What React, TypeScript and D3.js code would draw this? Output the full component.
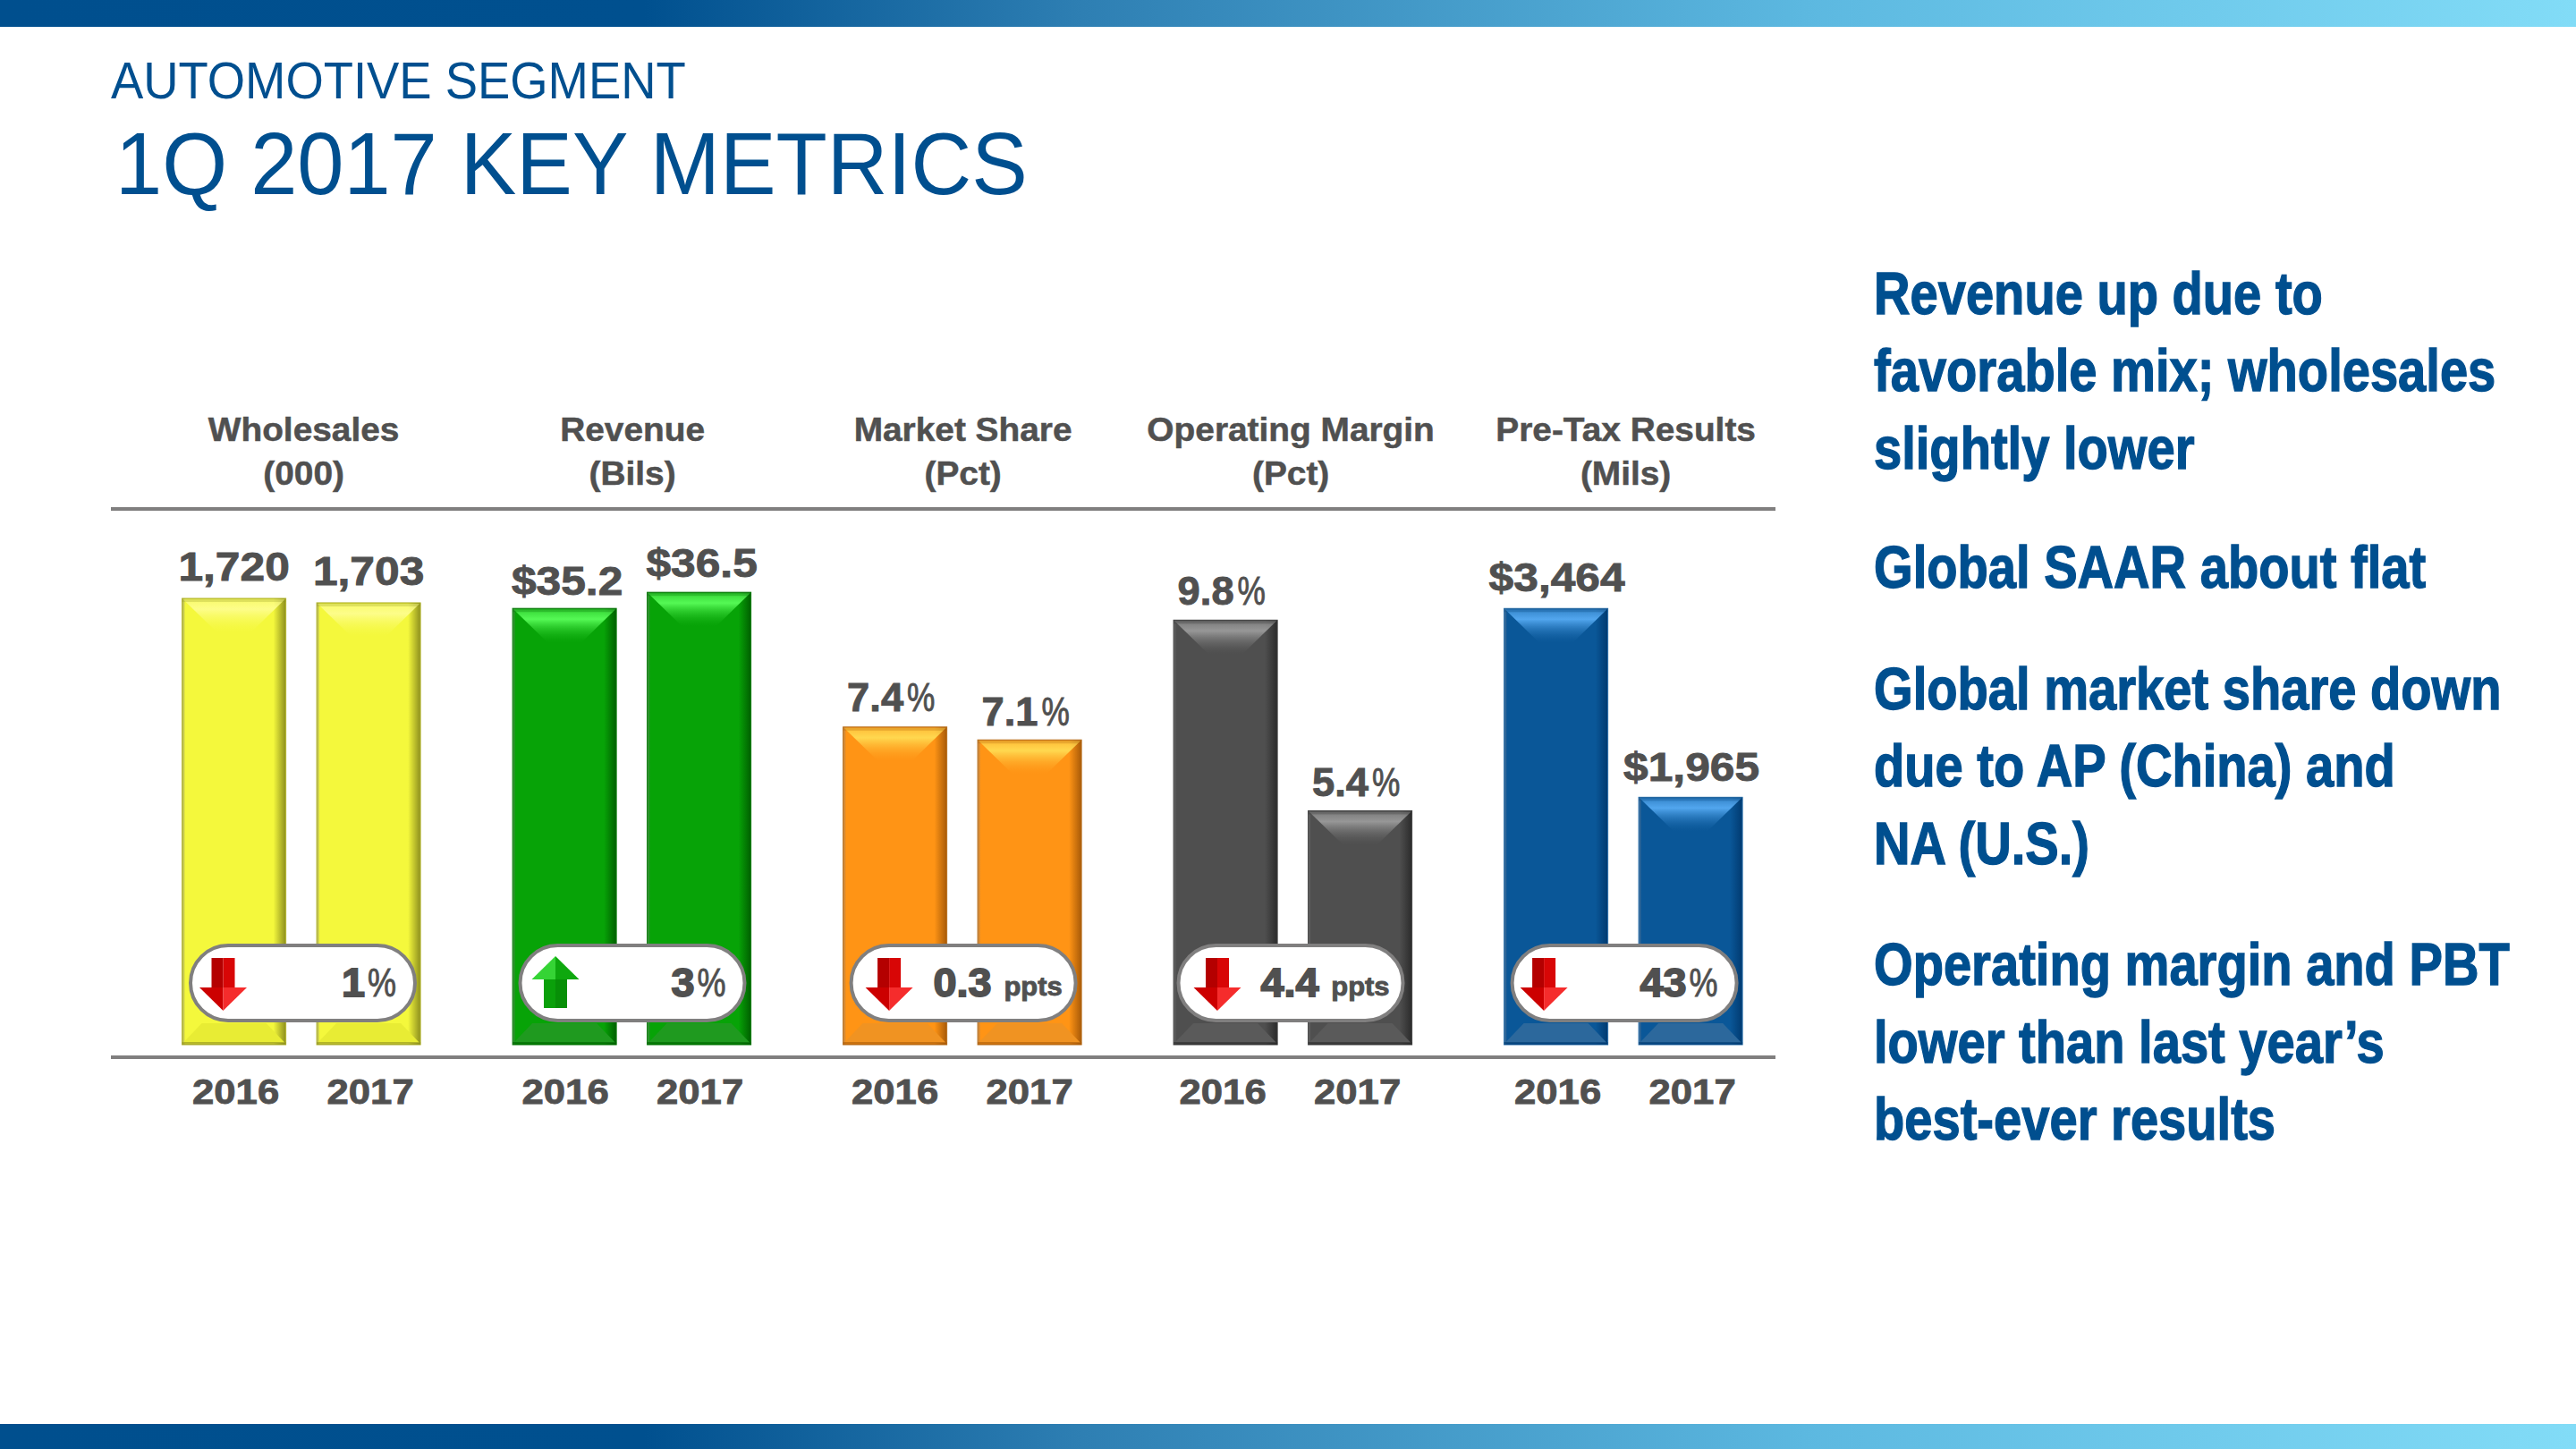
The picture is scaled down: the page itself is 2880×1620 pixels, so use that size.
import * as d3 from "d3";

const metrics = ["Wholesales", "Revenue", "Market Share", "Operating Margin", "Pre-Tax Results"];
const units = ["(000)", "(Bils)", "(Pct)", "(Pct)", "(Mils)"];
const years = ["2016", "2017"];
const values = [
  [1720, 1703],
  [35.2, 36.5],
  [7.4, 7.1],
  [9.8, 5.4],
  [3464, 1965],
];
const valueLabels = [
  ["1,720", "1,703"],
  ["$35.2", "$36.5"],
  ["7.4%", "7.1%"],
  ["9.8%", "5.4%"],
  ["$3,464", "$1,965"],
];
const changes = ["1", "3", "0.3", "4.4", "43"];
const changeUnits = ["%", "%", "ppts", "ppts", "%"];
const yMax = [1820, 38.1, 11, 10.9, 3750];

const bullets = [
  ["Revenue up due to", "favorable mix; wholesales", "slightly lower"],
  ["Global SAAR about flat"],
  ["Global market share down", "due to AP (China) and", "NA (U.S.)"],
  ["Operating margin and PBT", "lower than last year\u2019s", "best-ever results"],
];

// bar colours: side, body, highlight, bottom bevel, border
const palette = [
  { edge: "#8d8f1e", body: "#f4f83c", hi: "#fdfd8a", low: "#e8ec34", line: "#b4b630" },
  { edge: "#005f00", body: "#07a307", hi: "#55f955", low: "#1f9a1f", line: "#0b7d0b" },
  { edge: "#a85a08", body: "#ff9415", hi: "#ffd84f", low: "#f09322", line: "#b8701e" },
  { edge: "#2b2b2b", body: "#4f4f4f", hi: "#979797", low: "#5a5a5a", line: "#444444" },
  { edge: "#013a70", body: "#0a5798", hi: "#52a6ee", low: "#2c689c", line: "#2a70ac" },
];

const width = 2880;
const height = 1620;
const baseY = 1168;
const plotTop = 640;
const textColor = "#505050";
const blue = "#004f8f";
const ruleColor = "#807f7f";
const sans = "'Liberation Sans', Arial, sans-serif";

const panelX = d3.scaleBand<string>().domain(metrics).range([203.6, 203.6 + 5 * 369.5]);
const barX = d3.scaleBand<string>().domain(years).range([0, 266.5]).paddingInner(0.229);

const labelGap = [
  [20, 20],
  [15, 17],
  [18, 16],
  [17, 16],
  [19, 18],
];
const headerDx = [3, 1, 1, -2, 3];
const yearDx = [2, 1, 0, -3, 2];
const valueDx = [0, 3, -1.5, -1.5, 1];
const arrowDx = [10, 13, 16, 17, 9];
const badgeDx = [9.4, 8.4, 9, 5.4, 9];
const bulletY = [
  [350.5, 437, 523.5],
  [657],
  [792.5, 879, 965.5],
  [1101, 1187.5, 1273.5],
];

// text squeezed or stretched sideways, the original fonts are not installed
const Txt = ({ x, y, sx = 1, size, fill = textColor, weight = "bold", anchor = "middle", stroke = 0, children }: any) => (
  <text
    transform={`translate(${x},${y}) scale(${sx},1)`}
    fontFamily={sans}
    fontWeight={weight}
    fontSize={size}
    fill={fill}
    textAnchor={anchor}
    stroke={stroke ? fill : "none"}
    strokeWidth={stroke}
  >
    {children}
  </text>
);

// heavy digits with the thin, narrow percent sign of the original
const ValueLabel = ({ x, y, label }: { x: number; y: number; label: string }) => {
  if (!label.endsWith("%")) {
    return <Txt x={x} y={y} size={44} sx={1.13} stroke={0.9}>{label}</Txt>;
  }
  return (
    <g>
      <Txt x={x + 11} y={y} size={44} sx={1.03} anchor="end" stroke={0.9}>{label.slice(0, -1)}</Txt>
      <Txt x={x + 15} y={y} size={44} sx={0.8} anchor="start" weight="normal" stroke={0.9}>%</Txt>
    </g>
  );
};

const Bar = ({ x, top, w, c, id }: any) => {
  const bev = 39;
  const hiH = 38;
  return (
    <g>
      <rect x={x} y={top} width={w} height={baseY - top} fill={`url(#side${id})`} stroke={palette[id].line} strokeWidth={1} />
      <path d={`M${x + 1},${top + 1}H${x + w - 1}L${x + w - bev},${top + hiH}H${x + bev}Z`} fill={`url(#top${id})`} />
      <path d={`M${x + 1},${baseY - 2}H${x + w - 1}L${x + w - 22},${baseY - 24}H${x + 22}Z`} fill={c.low} />
      <rect x={x} y={baseY - 3} width={w} height={3} fill={c.edge} opacity={0.6} />
      <rect x={x} y={top} width={w} height={4} fill={c.edge} opacity={0.25} />
    </g>
  );
};

const Arrow = ({ x, up }: { x: number; up: boolean }) => {
  const w = 53;
  const sh = 13;
  const cx = x + w / 2;
  if (up) {
    const t = 1069;
    const m = 1095;
    const b = 1127;
    return (
      <g>
        <rect x={cx - sh} y={m} width={sh} height={b - m} fill="#0aa00a" />
        <rect x={cx} y={m} width={sh} height={b - m} fill="#078f07" />
        <path d={`M${cx},${t}L${x},${m}H${cx}Z`} fill="#35d435" />
        <path d={`M${cx},${t}L${x + w},${m}H${cx}Z`} fill="#0ea80e" />
      </g>
    );
  }
  const t = 1071;
  const m = 1104;
  const b = 1130;
  return (
    <g>
      <rect x={cx - sh} y={t} width={sh} height={m - t} fill="#b40000" />
      <rect x={cx} y={t} width={sh} height={m - t} fill="#d80606" />
      <path d={`M${x},${m}H${cx}V${b}Z`} fill="#cc0000" />
      <path d={`M${x + w},${m}H${cx}V${b}Z`} fill="#f52c2c" />
    </g>
  );
};

const App = () => {
  return (
    <svg
      width={width}
      height={height}
      viewBox={`0 0 ${width} ${height}`}
      style={{ position: "absolute", left: 0, top: 0, display: "block", background: "#fff" }}
    >
      <defs>
        <linearGradient id="band" x1="0" x2="1" y1="0" y2="0">
          <stop offset="0" stopColor="#004f8e" />
          <stop offset="0.25" stopColor="#00508f" />
          <stop offset="0.42" stopColor="#2e7fb3" />
          <stop offset="0.7" stopColor="#5cb8e0" />
          <stop offset="1" stopColor="#82dcf7" />
        </linearGradient>
        {palette.map((c, i) => (
          <g key={i}>
            <linearGradient id={`side${i}`} x1="0" x2="1" y1="0" y2="0">
              <stop offset="0" stopColor={c.edge} stopOpacity={0.7} />
              <stop offset="0.03" stopColor={c.body} />
              <stop offset="0.88" stopColor={c.body} />
              <stop offset="1" stopColor={c.edge} />
            </linearGradient>
            <linearGradient id={`top${i}`} x1="0" x2="0" y1="0" y2="1">
              <stop offset="0" stopColor={c.hi} stopOpacity={0.6} />
              <stop offset="0.3" stopColor={c.hi} />
              <stop offset="1" stopColor={c.body} stopOpacity={0.2} />
            </linearGradient>
          </g>
        ))}
      </defs>

      <rect x={0} y={0} width={width} height={30} fill="url(#band)" />
      <rect x={0} y={1592} width={width} height={28} fill="url(#band)" />

      <Txt x={124} y={110} size={58} sx={0.938} fill={blue} weight="normal" anchor="start">AUTOMOTIVE SEGMENT</Txt>
      <Txt x={129} y={217} size={98} sx={0.957} fill={blue} weight="normal" anchor="start">1Q 2017 KEY METRICS</Txt>

      <rect x={124} y={567} width={1861} height={4} fill={ruleColor} />
      <rect x={124} y={1180} width={1861} height={4} fill={ruleColor} />

      {metrics.map((m, i) => {
        const px = panelX(m) as number;
        const cx = px + 133 + headerDx[i];
        const y = d3.scaleLinear().domain([0, yMax[i]]).range([baseY, plotTop]);
        const down = values[i][1] < values[i][0];
        const bx = px + badgeDx[i];
        const bw = 251;
        const isPpts = changeUnits[i] === "ppts";
        return (
          <g key={m}>
            <Txt x={cx} y={493} size={37} sx={1.05} stroke={0.5}>{m}</Txt>
            <Txt x={cx} y={542} size={37} sx={1.05} stroke={0.5}>{units[i]}</Txt>

            {years.map((yr, j) => {
              const x = px + (barX(yr) as number);
              const w = barX.bandwidth();
              const top = y(values[i][j]);
              return (
                <g key={yr}>
                  <Bar x={x} top={top} w={w} c={palette[i]} id={i} />
                  <ValueLabel x={x + w / 2 + valueDx[i]} y={top - labelGap[i][j]} label={valueLabels[i][j]} />
                  <Txt x={x + w / 2 + yearDx[i]} y={1234} size={38} sx={1.15} stroke={0.8}>{yr}</Txt>
                </g>
              );
            })}

            <rect x={bx} y={1057} width={bw} height={84} rx={42} ry={42} fill="#fff" stroke={ruleColor} strokeWidth={4} />
            <Arrow x={bx + arrowDx[i]} up={!down} />
            {isPpts ? (
              <>
                <Txt x={bx + 92} y={1114} size={45} sx={1.04} anchor="start" stroke={1.8}>{changes[i]}</Txt>
                <Txt x={bx + bw - 15} y={1113} size={30} sx={1.03} anchor="end" stroke={0.9}>ppts</Txt>
              </>
            ) : (
              <>
                <Txt x={bx + bw - 21 - 35} y={1114} size={45} sx={1.04} anchor="end" stroke={1.8}>{changes[i]}</Txt>
                <Txt x={bx + bw - 21} y={1114} size={45} sx={0.8} anchor="end" weight="normal" stroke={0.9}>%</Txt>
              </>
            )}
          </g>
        );
      })}

      {bullets.map((lines, i) =>
        lines.map((line, j) => (
          <Txt key={line} x={2095} y={bulletY[i][j]} size={66} sx={0.85} fill={blue} anchor="start" stroke={1.4}>
            {line}
          </Txt>
        ))
      )}
    </svg>
  );
};

export default App;
